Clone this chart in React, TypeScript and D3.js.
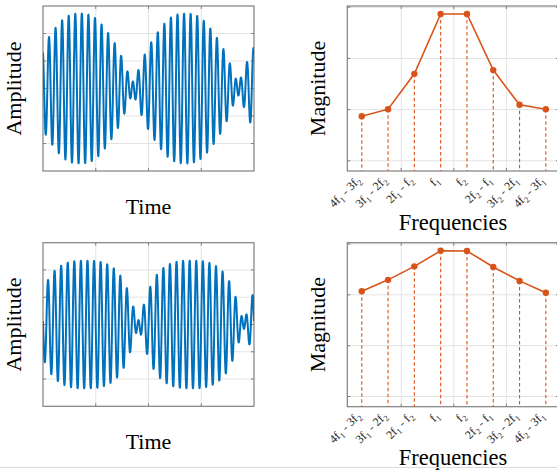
import React from "react";
import * as d3 from "d3";

// ---------- data ----------
const freqLabels = [
  "4f_1 - 3f_2",
  "3f_1 - 2f_2",
  "2f_1 - f_2",
  "f_1",
  "f_2",
  "2f_2 - f_1",
  "3f_2 - 2f_1",
  "4f_2 - 3f_1",
];
// magnitude spectra (log axis)
const spectrumTop = [0.0074, 0.0102, 0.05, 0.738, 0.738, 0.0592, 0.0124, 0.0102];
const spectrumBottom = [0.118, 0.197, 0.363, 0.736, 0.728, 0.353, 0.188, 0.11];

// time signals: sum of tones at carrier + offset * delta / 2 (cycles per record)
const carrierCycles = 32;
const deltaCycles = 2;
const toneOffsets = [-7, -5, -3, -1, 1, 3, 5, 7];
const toneAmpsTop = [0.015, 0.02, 0.075, 1.32, 1.56, 0.09, 0.02, 0.015];
const tonePhasesTop = [180, 0, 180, 0, 0, 180, 0, 180];
const toneAmpsBottom = [0.01, 0.04, 0.2, 1.26, 1.42, 0.2, 0.04, 0.01];
const tonePhasesBottom = [180, 0, 180, 0, 0, 180, 0, 180];
const peakTimeTop = 0.175;
const peakTimeBottom = 0.2015;
const carrierPhaseTop = -1.84;
const carrierPhaseBottom = -1.87;

const timeGrid = [0.25, 0.5, 0.75];
const ampGrid = [-2, -1, 0, 1, 2];
const magGrid = [1e-3, 1e-2, 1e-1, 1];
const freqGrid = [1.5, 3.5, 5.5];

// ---------- style ----------
const BLUE = "#0072BD";
const ORANGE = "#D95319";
const BOX = "#808080";
const GRID = "#e3e3e3";
const FONT = "'Liberation Serif', 'Times New Roman', serif";

const W = 557;
const H = 470;

function makeSignal(amps: number[], phases: number[], tPeak: number, phiC: number, n = 2400) {
  const pts: [number, number][] = [];
  for (let i = 0; i <= n; i++) {
    const t = i / n;
    const tau = t - tPeak;
    let s = 0;
    for (let k = 0; k < amps.length; k++) {
      const f = carrierCycles + (toneOffsets[k] * deltaCycles) / 2;
      s += amps[k] * Math.cos(2 * Math.PI * f * tau + (phases[k] * Math.PI) / 180 + phiC);
    }
    pts.push([t, s]);
  }
  return pts;
}

function Box({ x0, x1, y0, y1, xt, yt }: { x0: number; x1: number; y0: number; y1: number; xt: number[]; yt: number[] }) {
  const L = 3;
  return (
    <g>
      {xt.map((x, i) => (
        <g key={"x" + i}>
          <line x1={x} x2={x} y1={y1} y2={y1 - L} stroke={BOX} strokeWidth={1} />
          <line x1={x} x2={x} y1={y0} y2={y0 + L} stroke={BOX} strokeWidth={1} />
        </g>
      ))}
      {yt.map((y, i) => (
        <g key={"y" + i}>
          <line x1={x0} x2={x0 + L} y1={y} y2={y} stroke={BOX} strokeWidth={1} />
          <line x1={x1} x2={x1 - L} y1={y} y2={y} stroke={BOX} strokeWidth={1} />
        </g>
      ))}
      <rect x={x0} y={y0} width={x1 - x0} height={y1 - y0} fill="none" stroke={BOX} strokeWidth={1.2} />
    </g>
  );
}

function TimePanel({ y0, y1, amps, phases, tPeak, phiC }: any) {
  const x0 = 43, x1 = 254;
  const xs = d3.scaleLinear().domain([0, 1]).range([x0, x1]);
  const ys = d3.scaleLinear().domain([-3, 3]).range([y1, y0]);
  const data = makeSignal(amps, phases, tPeak, phiC);
  const line = d3.line<[number, number]>().x((d) => xs(d[0])).y((d) => ys(d[1]));
  const cy = (y0 + y1) / 2;
  const cx = (x0 + x1) / 2;
  return (
    <g>
      <rect x={x0} y={y0} width={x1 - x0} height={y1 - y0} fill="#fff" />
      {timeGrid.map((v) => (
        <line key={"gx" + v} x1={xs(v)} x2={xs(v)} y1={y0} y2={y1} stroke={GRID} strokeWidth={1} />
      ))}
      {ampGrid.map((v) => (
        <line key={"gy" + v} x1={x0} x2={x1} y1={ys(v)} y2={ys(v)} stroke={GRID} strokeWidth={1} />
      ))}
      <Box x0={x0} x1={x1} y0={y0} y1={y1} xt={timeGrid.map((v) => xs(v))} yt={ampGrid.map((v) => ys(v))} />
      <clipPath id={"clipT" + y0}>
        <rect x={x0} y={y0} width={x1 - x0} height={y1 - y0} />
      </clipPath>
      <path d={line(data) || ""} fill="none" stroke={BLUE} strokeWidth={2} strokeLinejoin="round" clipPath={`url(#clipT${y0})`} />
      <text x={cx} y={y1 + 42.5} textAnchor="middle" fontFamily={FONT} fontSize={22} fill="#000">Time</text>
      <text transform={`translate(21,${cy}) rotate(-90)`} textAnchor="middle" fontFamily={FONT} fontSize={22} fill="#000">Amplitude</text>
    </g>
  );
}

function FreqLabel({ x, y, label }: { x: number; y: number; label: string }) {
  const parts = label.split(/(_\d)/).filter((p) => p.length > 0);
  let shifted = false;
  return (
    <text transform={`translate(${x},${y}) rotate(-45)`} textAnchor="end" fontFamily={FONT} fontSize={12} fill="#262626">
      {parts.map((p, i) => {
        if (p.startsWith("_")) {
          const el = (
            <tspan key={i} dy={shifted ? 0 : 3} fontSize={8.5}>{p.slice(1)}</tspan>
          );
          shifted = true;
          return el;
        } else {
          const el = (
            <tspan key={i} dy={shifted ? -3 : 0}>{p}</tspan>
          );
          shifted = false;
          return el;
        }
      })}
    </text>
  );
}

function SpecPanel({ y0, y1, mags }: any) {
  const x0 = 347.3, x1 = 559;
  const xs = d3.scaleLinear().domain([-0.55, 7.5]).range([x0, x1]);
  const ys = d3.scaleLog().domain([Math.pow(10, -3.2), Math.pow(10, 0.025)]).range([y1, y0]);
  const pts = mags.map((m: number, i: number) => [i, m] as [number, number]);
  const line = d3.line<[number, number]>().x((d) => xs(d[0])).y((d) => ys(d[1]));
  const cy = (y0 + y1) / 2;
  const cx = (x0 + x1) / 2;
  return (
    <g>
      <rect x={x0} y={y0} width={x1 - x0} height={y1 - y0} fill="#fff" />
      {freqGrid.map((v) => (
        <line key={"gx" + v} x1={xs(v)} x2={xs(v)} y1={y0} y2={y1} stroke={GRID} strokeWidth={1} />
      ))}
      {magGrid.map((v) => (
        <line key={"gy" + v} x1={x0} x2={x1} y1={ys(v)} y2={ys(v)} stroke={GRID} strokeWidth={1} />
      ))}
      <Box x0={x0} x1={x1} y0={y0} y1={y1} xt={freqGrid.map((v) => xs(v))} yt={magGrid.map((v) => ys(v))} />
      {pts.map((d: [number, number], i: number) => (
        <line key={"st" + i} x1={xs(d[0])} x2={xs(d[0])} y1={ys(d[1])} y2={y1} stroke={ORANGE} strokeWidth={1.1} strokeDasharray="3.5,2.5" />
      ))}
      <path d={line(pts) || ""} fill="none" stroke={ORANGE} strokeWidth={1.6} />
      {pts.map((d: [number, number], i: number) => (
        <circle key={"m" + i} cx={xs(d[0])} cy={ys(d[1])} r={3.2} fill={ORANGE} />
      ))}
      {freqLabels.map((lab, i) => (
        <FreqLabel key={lab} x={xs(i) - 0.5} y={y1 + 10} label={lab} />
      ))}
      <text x={453} y={y1 + 58.5} textAnchor="middle" fontFamily={FONT} fontSize={22.5} fill="#000">Frequencies</text>
      <text transform={`translate(324.5,${cy}) rotate(-90)`} textAnchor="middle" fontFamily={FONT} fontSize={22} fill="#000">Magnitude</text>
    </g>
  );
}

export default function App() {
  return (
    <svg width={W} height={H} style={{ position: "absolute", left: 0, top: 0, background: "#fff" }}>
      <rect x={0} y={0} width={W} height={H} fill="#fff" />
      <TimePanel y0={6} y1={171} amps={toneAmpsTop} phases={tonePhasesTop} tPeak={peakTimeTop} phiC={carrierPhaseTop} />
      <TimePanel y0={242.7} y1={406.3} amps={toneAmpsBottom} phases={tonePhasesBottom} tPeak={peakTimeBottom} phiC={carrierPhaseBottom} />
      <SpecPanel y0={6} y1={171} mags={spectrumTop} />
      <SpecPanel y0={242.7} y1={406.7} mags={spectrumBottom} />
      <line x1={0} x2={W} y1={467.5} y2={467.5} stroke="#dcdcdc" strokeWidth={1} />
    </svg>
  );
}
